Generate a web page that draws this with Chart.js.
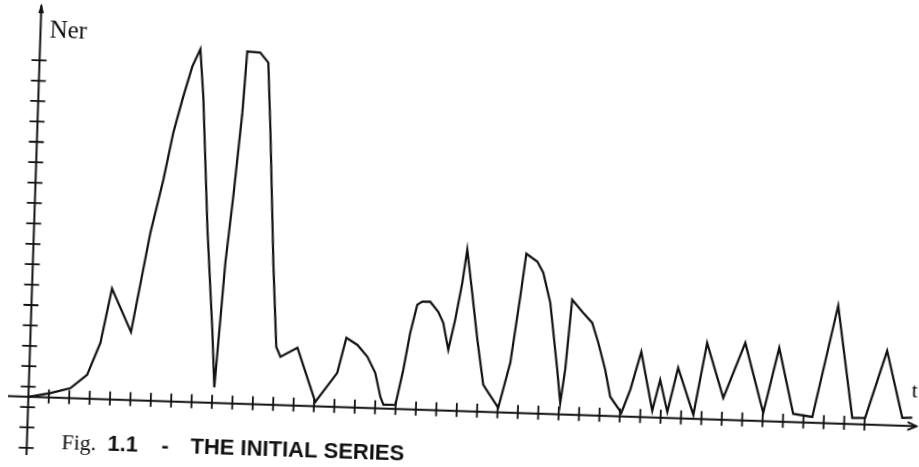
<!DOCTYPE html>
<html>
<head>
<meta charset="utf-8">
<script src="https://cdn.jsdelivr.net/npm/chart.js@4.4.1/dist/chart.umd.min.js"></script>
<style>
  html, body { margin: 0; padding: 0; background: #fff; overflow: hidden; }
  #wrap { width: 919px; height: 467px; overflow: hidden; }
  /* the scanned figure is tilted a little clockwise */
  #chart { display: block; transform: rotate(1.9deg); transform-origin: 28px 397px; }
</style>
</head>
<body>
<div id="wrap"><canvas id="chart" width="919" height="467"></canvas></div>
<script>
// time axis positions (in tick units) and Ner values
const T = [0, 1.07, 2.04, 2.84, 3.44, 3.92, 4.92, 5.71, 6.26, 6.67, 7.06, 7.49, 7.86, 8.08, 8.50, 8.90, 9.09, 9.43, 9.71, 10.02,
  10.16, 10.80, 11.21, 11.42, 11.78, 12.06, 12.28, 13.10, 14.06, 15.09, 15.48, 16.03, 16.54, 16.95, 17.24, 17.40, 17.99, 18.32, 18.60, 18.90,
  19.14, 19.53, 19.94, 20.20, 20.49, 20.78, 21.07, 21.26, 21.57, 21.90, 22.26, 22.52, 23.03, 23.55, 23.93, 24.16, 24.71, 25.02, 25.41, 25.86,
  26.06, 26.25, 26.48, 27.04, 27.50, 27.83, 28.21, 28.50, 29.07, 29.47, 29.95, 30.58, 30.92, 31.32, 31.78, 32.60, 33.16, 34.04, 35.03, 36.02,
  36.70, 37.49, 38.43, 39.52, 40.39, 41.02, 41.99, 42.84, 43.33];
const NER = [0, 0.22, 0.49, 1.17, 2.76, 5.44, 3.34, 8.24, 10.86, 13.18, 14.81, 16.44, 17.31, 14.99, 8.48, 3.58, 0.77, 6.89, 10.14, 14.27,
  17.27, 17.24, 16.76, 13.48, 6.97, 2.85, 2.37, 2.84, 0.22, 1.68, 3.41, 3.08, 2.51, 1.74, 0.57, 0.19, 0.20, 1.94, 3.76, 5.14,
  5.30, 5.31, 4.83, 4.30, 2.99, 4.47, 6.29, 7.92, 5.82, 3.52, 1.33, 0.95, 0.23, 2.45, 5.70, 7.82, 7.45, 6.92, 5.46, 2.19,
  0.57, 2.20, 5.64, 5.02, 4.54, 3.57, 2.26, 0.95, 0.18, 1.32, 3.20, 0.33, 1.86, 0.30, 2.48, 0.20, 3.75, 1.08, 3.81, 0.41,
  3.62, 0.41, 0.29, 5.78, 0.31, 0.33, 3.65, 0.39, 0.41];

const X_TICKS = Array.from({ length: 41 }, (_, i) => i + 1);
const Y_TICKS = [-2.5, -1.5, -0.5, 0.5, 1.5, 2.5, 3.5, 4.5, 5.5, 6.5, 7.5, 8.5, 9.5, 10.5, 11.5, 12.5, 13.5, 14.5, 15.5, 16.5];

const Y_LABEL = 'Ner';
const X_LABEL = 't';
const CAPTION_FIG = 'Fig.';
const CAPTION_NUM = '1.1';
const CAPTION_TEXT = 'THE INITIAL SERIES';

const INK = '#111';

const hand = {
  id: 'hand',
  afterDraw(chart) {
    const ctx = chart.ctx;
    const xs = chart.scales.x;
    const ys = chart.scales.y;
    const x0 = xs.getPixelForValue(0);
    const y0 = ys.getPixelForValue(0);
    ctx.save();
    ctx.strokeStyle = INK;
    ctx.fillStyle = INK;
    ctx.lineWidth = 2;
    ctx.lineCap = 'butt';

    // axes
    const xEnd = xs.getPixelForValue(43.55);
    const yTop = ys.getPixelForValue(19.2);
    ctx.beginPath();
    ctx.moveTo(xs.getPixelForValue(-1), y0);
    ctx.lineTo(xEnd, y0);
    ctx.moveTo(x0, ys.getPixelForValue(-2.85));
    ctx.lineTo(x0, yTop);
    ctx.stroke();

    // x arrow (open)
    ctx.beginPath();
    ctx.moveTo(xEnd - 9, y0 - 4);
    ctx.lineTo(xEnd, y0);
    ctx.lineTo(xEnd - 9, y0 + 4);
    ctx.stroke();
    // y arrow (filled)
    ctx.beginPath();
    ctx.moveTo(x0, yTop - 2);
    ctx.lineTo(x0 - 2.8, yTop + 8);
    ctx.lineTo(x0 + 2.8, yTop + 8);
    ctx.closePath();
    ctx.fill();

    // tick marks crossing the axes
    ctx.lineWidth = 1.8;
    ctx.beginPath();
    X_TICKS.forEach(t => {
      const px = xs.getPixelForValue(t);
      ctx.moveTo(px, y0 - 8);
      ctx.lineTo(px, y0 + 6);
    });
    Y_TICKS.forEach(v => {
      const py = ys.getPixelForValue(v);
      ctx.moveTo(x0 - 8, py);
      ctx.lineTo(x0 + 7, py);
    });
    ctx.stroke();

    // axis names
    ctx.textBaseline = 'alphabetic';
    ctx.font = '25px "Liberation Serif", serif';
    ctx.fillText(Y_LABEL, x0 + 9, 37);
    ctx.font = '22px "Liberation Serif", serif';
    ctx.fillText(X_LABEL, 911, y0 - 29);

    // caption
    const base = y0 + 51;
    ctx.font = '22px "Liberation Serif", serif';
    ctx.fillText(CAPTION_FIG, 63, base);
    ctx.font = 'bold 22px "Liberation Sans", Arial, sans-serif';
    ctx.fillText(CAPTION_NUM, 109, base);
    ctx.fillText('-', 163, base);
    ctx.fillText(CAPTION_TEXT, 192, base);
    ctx.restore();
  }
};

new Chart(document.getElementById('chart'), {
  type: 'line',
  data: {
    datasets: [{
      data: T.map((t, i) => ({ x: t, y: NER[i] })),
      borderColor: INK,
      borderWidth: 2.2,
      pointRadius: 0,
      tension: 0,
      fill: false
    }]
  },
  options: {
    responsive: false,
    animation: false,
    devicePixelRatio: 1,
    layout: { padding: { left: 8, right: 1, top: 3, bottom: 11 } },
    scales: {
      x: { type: 'linear', min: -1, max: 43.6, display: false },
      y: { type: 'linear', min: -2.9, max: 19.3, display: false }
    },
    plugins: {
      legend: { display: false },
      tooltip: { enabled: false }
    }
  },
  plugins: [hand]
});
</script>
</body>
</html>
